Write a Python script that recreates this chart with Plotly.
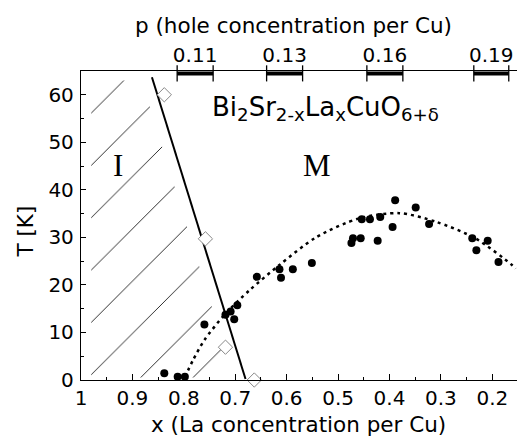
import numpy as np
import plotly.graph_objects as go

# ---- data ----
# filled circles: Tc of Bi2Sr2-xLaxCuO6+d
x_filled = [0.838, 0.812, 0.798, 0.760, 0.719, 0.709, 0.702, 0.696, 0.658, 0.614,
            0.611, 0.588, 0.551, 0.474, 0.471, 0.456, 0.454, 0.438, 0.423, 0.418,
            0.394, 0.389, 0.349, 0.323, 0.239, 0.231, 0.209, 0.188]
T_filled = [1.4, 0.7, 0.7, 11.7, 13.7, 14.4, 12.8, 15.7, 21.7, 23.3,
            21.5, 23.3, 24.6, 28.8, 29.8, 29.8, 33.8, 33.8, 29.3, 34.3,
            32.2, 37.8, 36.3, 32.8, 29.8, 27.3, 29.3, 24.8]

# open diamonds: insulator-metal crossover points
x_open = [0.838, 0.758, 0.719, 0.663]
T_open = [60.0, 29.7, 6.9, 0.0]

# solid boundary line between I and M
x_bound = [0.862, 0.680]
T_bound = [63.7, 0.2]

# dotted dome (guide to the eye)
x_dome = [0.798, 0.782, 0.760, 0.721, 0.672, 0.614, 0.543, 0.459, 0.381, 0.310, 0.233, 0.162, 0.155]
T_dome = [0.6, 4.2, 8.4, 13.7, 18.9, 24.2, 30.0, 34.0, 35.1, 33.3, 29.8, 24.2, 23.4]

# top axis: hole concentration p, shown as bars over x ranges
p_labels = ["0.11", "0.13", "0.16", "0.19"]
p_x_start = [0.813, 0.639, 0.444, 0.236]
p_x_end = [0.743, 0.569, 0.374, 0.168]

X_RANGE = [1.0, 0.152]
Y_RANGE = [0, 65]

FONT = "DejaVu Sans"

fig = go.Figure()

# hatched insulating region (computed from boundary line, with small gaps)
Tb = np.array(T_bound)[::-1]
xb = np.array(x_bound)[::-1]
t_lo, t_hi = 0.5, 63.0
xr_lo = float(np.interp(t_lo, Tb, xb)) + 0.022
xr_hi = float(np.interp(t_hi, Tb, xb)) + 0.022
fig.add_trace(go.Scatter(
    x=[0.98, xr_lo, xr_hi, 0.98, 0.98], y=[t_lo, t_lo, t_hi, t_hi, t_lo],
    mode="lines", line=dict(width=0, color="rgba(0,0,0,0)"),
    fill="toself", fillcolor="rgba(0,0,0,0)",
    fillpattern=dict(shape="/", size=37, solidity=0.022, fgcolor="black",
                     bgcolor="rgba(0,0,0,0)", fillmode="replace"),
    hoverinfo="skip", showlegend=False))

# boundary line
fig.add_trace(go.Scatter(x=x_bound, y=T_bound, mode="lines",
                         line=dict(color="black", width=2), showlegend=False))

# dotted dome
fig.add_trace(go.Scatter(x=x_dome, y=T_dome, mode="lines",
                         line=dict(color="black", width=2.5, dash="3px,4px", shape="spline", smoothing=0.8),
                         showlegend=False))

# filled circles
fig.add_trace(go.Scatter(x=x_filled, y=T_filled, mode="markers",
                         marker=dict(symbol="circle", size=8, color="black"),
                         showlegend=False))

# open diamonds
fig.add_trace(go.Scatter(x=x_open, y=T_open, mode="markers", cliponaxis=False,
                         marker=dict(symbol="diamond", size=11, color="white",
                                     line=dict(color="#888", width=1)),
                         showlegend=False))

# top-axis bars with end ticks
bx, by = [], []
for s, e in zip(p_x_start, p_x_end):
    bx += [s, e, None]
    by += [64.5, 64.5, None]
fig.add_trace(go.Scatter(x=bx, y=by, xaxis="x2", mode="lines+markers", cliponaxis=False,
                         line=dict(color="black", width=4),
                         marker=dict(symbol="line-ns", size=11.5, color="black",
                                     line=dict(color="black", width=1.3)),
                         showlegend=False))

p_centers = [(s + e) / 2 for s, e in zip(p_x_start, p_x_end)]

fig.update_layout(
    width=517, height=436,
    margin=dict(l=81, r=0, t=71, b=56),
    paper_bgcolor="white", plot_bgcolor="white",
    font=dict(family=FONT, color="black", size=20),
    xaxis=dict(range=X_RANGE, showline=True, linecolor="black", linewidth=1.3,
               ticks="inside", ticklen=6, tickwidth=1.2, tickcolor="black",
               tick0=0, dtick=0.1, tickformat=".1~f",
               minor=dict(dtick=0.05, ticks="inside", ticklen=3, tickwidth=1.2, tickcolor="black"),
               showgrid=False, zeroline=False, tickfont=dict(size=20)),
    xaxis2=dict(range=X_RANGE, overlaying="x", side="top", anchor="y",
                showline=True, linecolor="black", linewidth=1.3,
                tickvals=p_centers, ticktext=p_labels, ticks="",
                showgrid=False, zeroline=False, tickfont=dict(size=20)),
    yaxis=dict(range=Y_RANGE, showline=True, linecolor="black", linewidth=1.3,
               ticks="inside", ticklen=5, tickwidth=1.2, tickcolor="black",
               tick0=0, dtick=10, ticklabelstandoff=2,
               minor=dict(dtick=5, ticks="inside", ticklen=3, tickwidth=1.2, tickcolor="black"),
               showgrid=False, zeroline=False, tickfont=dict(size=20)),
)

def px2paper(px, py):
    return (px - 81) / 436.0, (380 - py) / 309.0

annots = []
ax, ay = px2paper(25, 231.5)
annots.append(dict(text="T [K]", x=ax, y=ay, textangle=-90, font=dict(size=21.5)))
ax, ay = px2paper(298.5, 424.5)
annots.append(dict(text="x (La concentration per Cu)", x=ax, y=ay, font=dict(size=21.5)))
ax, ay = px2paper(293.5, 25)
annots.append(dict(text="p (hole concentration per Cu)", x=ax, y=ay, font=dict(size=21.5)))
ax, ay = px2paper(210, 108)
annots.append(dict(text="Bi<sub>2</sub>Sr<sub>2-x</sub>La<sub>x</sub>CuO<sub>6+δ</sub>",
                   x=ax, y=ay, xanchor="left", font=dict(size=26)))
ax, ay = px2paper(117.7, 165.5)
annots.append(dict(text="I", x=ax, y=ay, font=dict(family="Liberation Serif", size=31)))
ax, ay = px2paper(317, 165.5)
annots.append(dict(text="M", x=ax, y=ay, font=dict(family="Liberation Serif", size=31)))

for a in annots:
    a.setdefault("xanchor", "center")
    a.update(xref="paper", yref="paper", showarrow=False, yanchor="middle")
fig.update_layout(annotations=annots)

fig.write_html("out.html")
